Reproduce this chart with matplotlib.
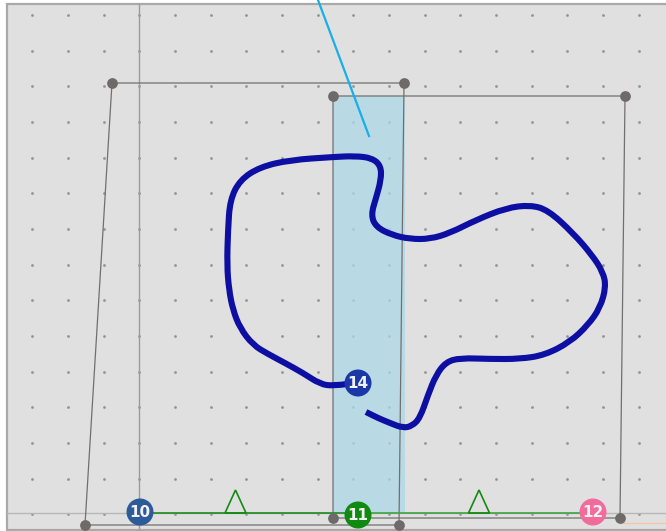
import numpy as np
import matplotlib
matplotlib.use("Agg")
import matplotlib.pyplot as plt
from matplotlib.patches import Circle, Rectangle, Polygon, PathPatch
from matplotlib.path import Path

# ---------------------------------------------------------------------------
# Sketch data (pixel-space coordinates, y downwards)
# ---------------------------------------------------------------------------

W, H = 666, 531

grid_x0, grid_y0, grid_step = 32.3, 15.0, 35.67

quad_a = [(112, 83), (404, 83), (399, 525), (85, 525)]
quad_b = [(333, 96), (625, 96), (620, 518), (333, 518)]

band_x = (333, 405)
band_y = (96, 514)

pointer_x = [318, 369]
pointer_y = [0, 136]

curve_x = [347, 333, 320, 303, 285, 268, 253, 240, 233, 229, 227, 228, 230,
           240, 260, 290, 333, 355, 372, 381, 381, 376, 371, 376, 392, 410,
           430, 450, 476, 506, 530, 548, 573, 592, 603, 606, 600, 588, 570,
           545, 520, 490, 460, 446, 436, 428, 420, 412, 403, 390, 378, 366]
curve_y = [384, 386, 384, 373, 363, 354, 345, 328, 310, 290, 265, 230, 200,
           180, 167, 160, 157, 156, 158, 166, 180, 198, 215, 227, 235, 239,
           239, 233, 220, 208, 205, 210, 233, 255, 272, 287, 308, 325, 342,
           355, 359, 359, 358, 362, 375, 395, 418, 426, 428, 423, 418, 412]

tri_x = [235.5, 479]
tri_base_y = 513
tri_half, tri_h = 10.5, 23

baseline_y = 513
badge_labels = ["10", "11", "12", "14"]
badge_x = [140, 358, 593, 358]
badge_y = [512, 515, 512, 383]
badge_colors = ["#2d5a98", "#118a11", "#f06c9b", "#1a38a8"]

# ---------------------------------------------------------------------------
# Figure
# ---------------------------------------------------------------------------

fig = plt.figure(figsize=(W / 100, H / 100), dpi=100)
ax = fig.add_axes([0, 0, 1, 1])
ax.set_xlim(0, W)
ax.set_ylim(H, 0)
ax.axis("off")

# canvas + frame
ax.add_patch(Rectangle((7, 4), W, 526, facecolor="#e0e0e0",
                       edgecolor="#a9a9a9", lw=1.6, zorder=0))

# dot grid
gx = np.arange(grid_x0, W, grid_step)
gy = np.arange(grid_y0, 520, grid_step)
GX, GY = np.meshgrid(gx, gy)
ax.scatter(GX.ravel(), GY.ravel(), s=4, color="#949494", lw=0, zorder=1)

# guide lines
ax.plot([139, 139], [4, H], color="#9c9c9c", lw=1.0, zorder=2)
ax.plot([7, W], [baseline_y, baseline_y], color="#b8b8b8", lw=1.0, zorder=2)
ax.plot([620, W], [523, 523], color="#f3c6a6", lw=1.0, zorder=2)

# translucent band
ax.add_patch(Rectangle((band_x[0], band_y[0]), band_x[1] - band_x[0],
                       band_y[1] - band_y[0], facecolor="#add8e6",
                       alpha=0.75, lw=0, zorder=2))

# quadrilaterals
for quad in (quad_a, quad_b):
    ax.add_patch(Polygon(quad, closed=True, fill=False,
                         edgecolor="#707070", lw=0.9, zorder=3))
    qx, qy = zip(*quad)
    ax.scatter(qx, qy, s=60, color="#6e6a6a", lw=0, zorder=6)

# pointer line
ax.plot(pointer_x, pointer_y, color="#18aee8", lw=1.6, zorder=4)

# green baseline + triangles
ax.plot([badge_x[0], badge_x[1]], [baseline_y, baseline_y],
        color="#1e8a1e", lw=1.2, zorder=4)
ax.plot([badge_x[1], badge_x[2]], [baseline_y, baseline_y],
        color="#3fa33f", lw=1.2, zorder=4)
for tx in tri_x:
    ax.add_patch(Polygon([(tx - tri_half, tri_base_y), (tx, tri_base_y - tri_h),
                          (tx + tri_half, tri_base_y)], closed=True,
                         fill=False, edgecolor="#148a14", lw=1.2, zorder=4))

# freehand curve: traced points used as quadratic control points
pts = list(zip(curve_x, curve_y))
verts, codes = [pts[0]], [Path.MOVETO]
for i in range(1, len(pts) - 1):
    mid = ((pts[i][0] + pts[i + 1][0]) / 2, (pts[i][1] + pts[i + 1][1]) / 2)
    verts += [pts[i], mid]
    codes += [Path.CURVE3, Path.CURVE3]
verts.append(pts[-1])
codes.append(Path.LINETO)
ax.add_patch(PathPatch(Path(verts, codes), fill=False, edgecolor="#0d0fa3",
                       lw=4.4, capstyle="butt", joinstyle="round", zorder=5))

# numbered badges
for lab, bx, by, bc in zip(badge_labels, badge_x, badge_y, badge_colors):
    ax.add_patch(Circle((bx, by), 13.5, facecolor=bc, edgecolor="none",
                        zorder=7))
    ax.text(bx, by + 0.5, lab, ha="center", va="center", color="#f2f2f2",
            fontsize=11, fontweight="bold", zorder=8)

fig.savefig("out.png", dpi=100, facecolor="white")
